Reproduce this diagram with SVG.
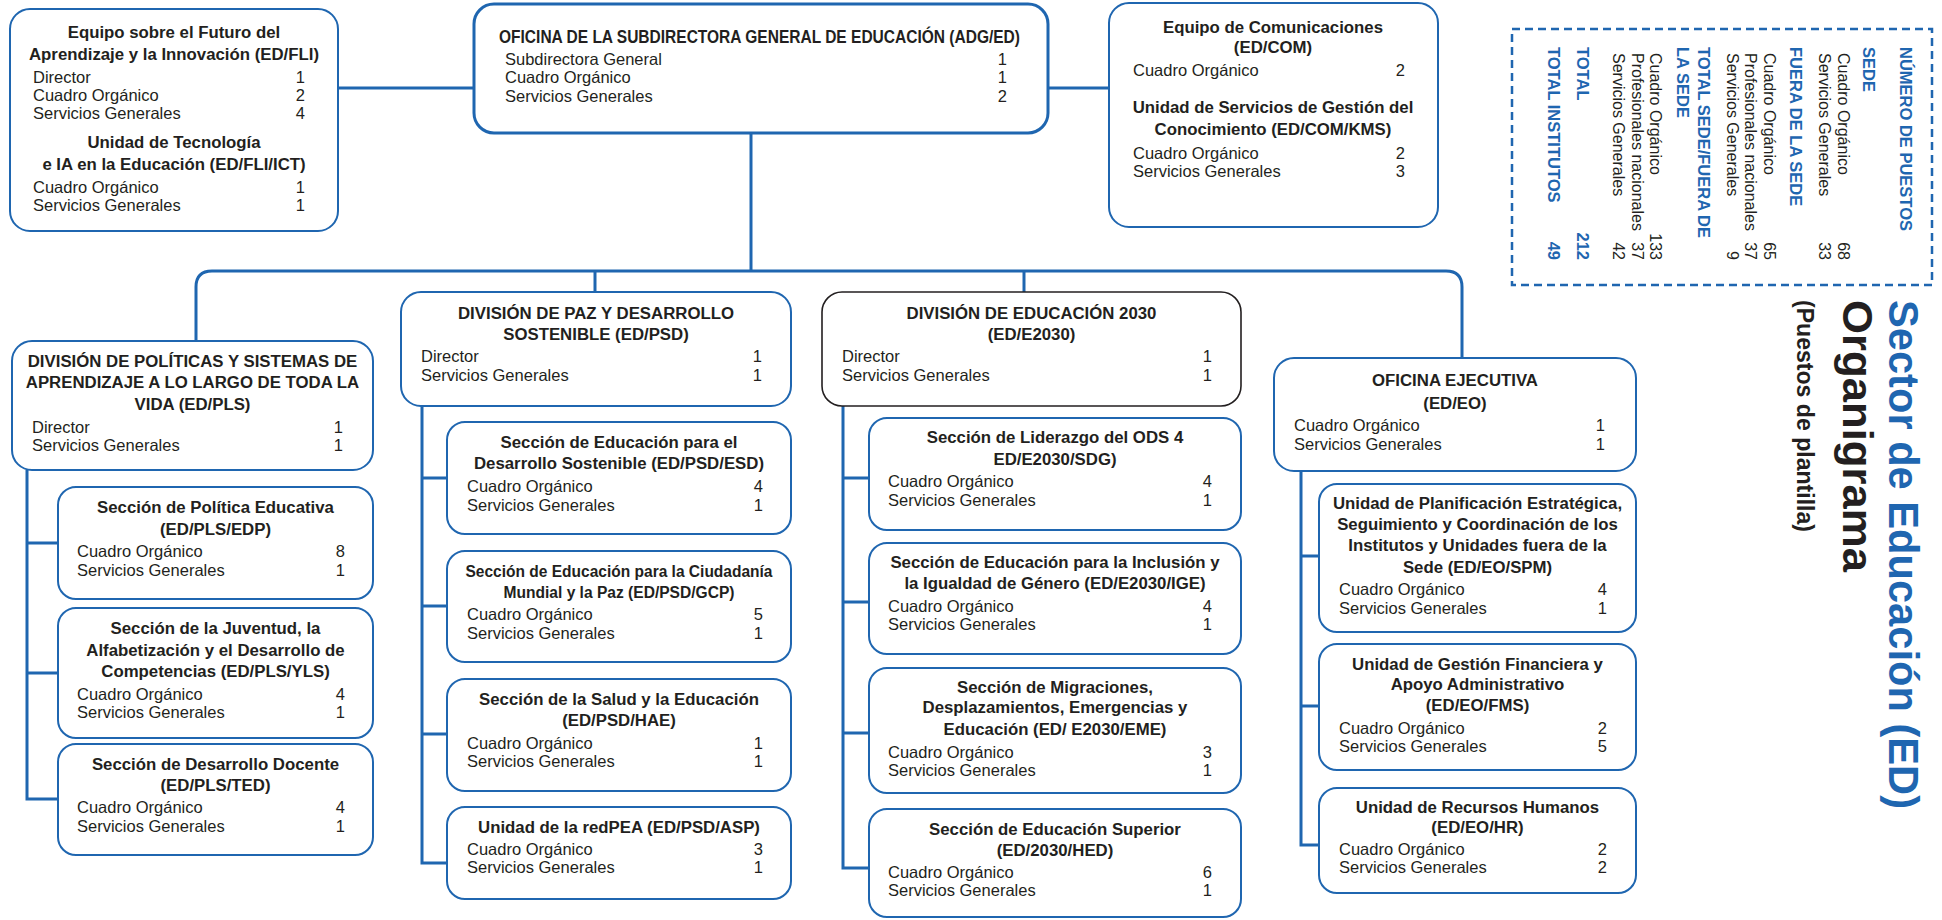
<svg xmlns="http://www.w3.org/2000/svg" width="1942" height="920" viewBox="0 0 1942 920">
  <style>
    .box { fill: #ffffff; stroke: #1f66b0; stroke-width: 2; }
    .box-main { fill: #ffffff; stroke: #1f66b0; stroke-width: 3; }
    .box-dark { fill: #ffffff; stroke: #231f20; stroke-width: 1.6; }
    .link { fill: none; stroke: #1f66b0; stroke-width: 3; }
    text { font-family: "Liberation Sans", Arial, sans-serif; fill: #231f20; }
    .t { font-size: 16.8px; font-weight: bold; text-anchor: middle; }
    .r { font-size: 16.5px; }
    .n { font-size: 16.5px; text-anchor: end; }
    .lg { font-size: 16.5px; font-weight: bold; fill: #1f66b0; }
    .lr { font-size: 16px; }
    .ln { font-size: 16px; text-anchor: end; }
    .lnb { font-size: 16.5px; font-weight: bold; fill: #1f66b0; text-anchor: end; }
  </style>

  <!-- connectors -->
  <g id="connectors">
    <path class="link" d="M338,88 H474"/>
    <path class="link" d="M1048,88 H1109"/>
    <path class="link" d="M751,133 V271"/>
    <path class="link" d="M196,341 V287 Q196,271 212,271 H1446 Q1462,271 1462,287 V358"/>
    <path class="link" d="M595,271 V292"/>
    <path class="link" d="M1024,271 V292"/>
    <!-- PLS sections -->
    <path class="link" d="M27,470 V799 H58 M27,543 H58 M27,673 H58"/>
    <!-- PSD sections -->
    <path class="link" d="M422,406 V863 H447 M422,478 H447 M422,606 H447 M422,734 H447"/>
    <!-- E2030 sections -->
    <path class="link" d="M843,406 V868 H869 M843,478 H869 M843,602 H869 M843,733 H869"/>
    <!-- EO units -->
    <path class="link" d="M1301,471 V845 H1319 M1301,556 H1319 M1301,706 H1319"/>
  </g>

  <!-- Equipo sobre el Futuro del Aprendizaje -->
  <g id="ed-fli">
    <rect class="box" x="10" y="9" width="328" height="222" rx="20"/>
    <text class="t" x="174" y="38">Equipo sobre el Futuro del</text>
    <text class="t" x="174" y="60">Aprendizaje y la Innovación (ED/FLI)</text>
    <text class="r" x="33" y="83">Director</text><text class="n" x="305" y="83">1</text>
    <text class="r" x="33" y="101">Cuadro Orgánico</text><text class="n" x="305" y="101">2</text>
    <text class="r" x="33" y="119">Servicios Generales</text><text class="n" x="305" y="119">4</text>
    <text class="t" x="174" y="148">Unidad de Tecnología</text>
    <text class="t" x="174" y="170">e IA en la Educación (ED/FLI/ICT)</text>
    <text class="r" x="33" y="193">Cuadro Orgánico</text><text class="n" x="305" y="193">1</text>
    <text class="r" x="33" y="211">Servicios Generales</text><text class="n" x="305" y="211">1</text>
  </g>

  <!-- Oficina de la Subdirectora General -->
  <g id="adg-ed">
    <rect class="box-main" x="474" y="4" width="574" height="129" rx="20"/>
    <text class="t" x="759.5" y="43" style="font-size:18px" textLength="521" lengthAdjust="spacingAndGlyphs">OFICINA DE LA SUBDIRECTORA GENERAL DE EDUCACIÓN (ADG/ED)</text>
    <text class="r" x="505" y="65">Subdirectora General</text><text class="n" x="1007" y="65">1</text>
    <text class="r" x="505" y="83">Cuadro Orgánico</text><text class="n" x="1007" y="83">1</text>
    <text class="r" x="505" y="101.5">Servicios Generales</text><text class="n" x="1007" y="101.5">2</text>
  </g>

  <!-- Equipo de Comunicaciones -->
  <g id="ed-com">
    <rect class="box" x="1109" y="3" width="329" height="224" rx="20"/>
    <text class="t" x="1273" y="33">Equipo de Comunicaciones</text>
    <text class="t" x="1273" y="53">(ED/COM)</text>
    <text class="r" x="1133" y="76">Cuadro Orgánico</text><text class="n" x="1405" y="76">2</text>
    <text class="t" x="1273" y="113">Unidad de Servicios de Gestión del</text>
    <text class="t" x="1273" y="135">Conocimiento (ED/COM/KMS)</text>
    <text class="r" x="1133" y="159">Cuadro Orgánico</text><text class="n" x="1405" y="159">2</text>
    <text class="r" x="1133" y="177">Servicios Generales</text><text class="n" x="1405" y="177">3</text>
  </g>

  <!-- Legend: number of posts -->
  <g id="legend">
    <rect x="1512" y="29" width="420" height="256" fill="none" stroke="#1f66b0" stroke-width="2.5" stroke-dasharray="8 5"/>
    <text class="lg" transform="translate(1900,47) rotate(90)">NÚMERO DE PUESTOS</text>
    <text class="lg" transform="translate(1863,47) rotate(90)">SEDE</text>
    <text class="lr" transform="translate(1838,53) rotate(90)">Cuadro Orgánico</text>
    <text class="ln" transform="translate(1838,260) rotate(90)">68</text>
    <text class="lr" transform="translate(1819,53) rotate(90)">Servicios Generales</text>
    <text class="ln" transform="translate(1819,260) rotate(90)">33</text>
    <text class="lg" transform="translate(1790,47) rotate(90)">FUERA DE LA SEDE</text>
    <text class="lr" transform="translate(1764,53) rotate(90)">Cuadro Orgánico</text>
    <text class="ln" transform="translate(1764,260) rotate(90)">65</text>
    <text class="lr" transform="translate(1745,53) rotate(90)">Profesionales nacionales</text>
    <text class="ln" transform="translate(1745,260) rotate(90)">37</text>
    <text class="lr" transform="translate(1727,53) rotate(90)">Servicios Generales</text>
    <text class="ln" transform="translate(1727,260) rotate(90)">9</text>
    <text class="lg" transform="translate(1698,47) rotate(90)">TOTAL SEDE/FUERA DE</text>
    <text class="lg" transform="translate(1677,47) rotate(90)">LA SEDE</text>
    <text class="lr" transform="translate(1650,53) rotate(90)">Cuadro Orgánico</text>
    <text class="ln" transform="translate(1650,260) rotate(90)">133</text>
    <text class="lr" transform="translate(1632,53) rotate(90)">Profesionales nacionales</text>
    <text class="ln" transform="translate(1632,260) rotate(90)">37</text>
    <text class="lr" transform="translate(1613,53) rotate(90)">Servicios Generales</text>
    <text class="ln" transform="translate(1613,260) rotate(90)">42</text>
    <text class="lg" transform="translate(1577,47) rotate(90)">TOTAL</text>
    <text class="lnb" transform="translate(1577,260) rotate(90)">212</text>
    <text class="lg" transform="translate(1548,47) rotate(90)">TOTAL INSTITUTOS</text>
    <text class="lnb" transform="translate(1548,260) rotate(90)">49</text>
  </g>

  <!-- Chart title -->
  <g id="title">
    <text transform="translate(1889,300) rotate(90)" style="font-size:42px;font-weight:bold;fill:#1f66b0" textLength="509" lengthAdjust="spacingAndGlyphs">Sector de Educación (ED)</text>
    <text transform="translate(1843,300) rotate(90)" style="font-size:42px;font-weight:bold" textLength="272" lengthAdjust="spacingAndGlyphs">Organigrama</text>
    <text transform="translate(1797,300) rotate(90)" style="font-size:24px;font-weight:bold" textLength="232" lengthAdjust="spacingAndGlyphs">(Puestos de plantilla)</text>
  </g>

  <!-- División de Políticas y Sistemas de Aprendizaje -->
  <g id="ed-pls">
    <rect class="box" x="12" y="341" width="361" height="129" rx="20"/>
    <text class="t" x="192.5" y="367">DIVISIÓN DE POLÍTICAS Y SISTEMAS DE</text>
    <text class="t" x="192.5" y="388">APRENDIZAJE A LO LARGO DE TODA LA</text>
    <text class="t" x="192.5" y="410">VIDA (ED/PLS)</text>
    <text class="r" x="32" y="433">Director</text><text class="n" x="343" y="433">1</text>
    <text class="r" x="32" y="451">Servicios Generales</text><text class="n" x="343" y="451">1</text>
  </g>
  <g id="ed-pls-edp">
    <rect class="box" x="58" y="487" width="315" height="112" rx="18"/>
    <text class="t" x="215.5" y="513">Sección de Política Educativa</text>
    <text class="t" x="215.5" y="535">(ED/PLS/EDP)</text>
    <text class="r" x="77" y="557">Cuadro Orgánico</text><text class="n" x="345" y="557">8</text>
    <text class="r" x="77" y="576">Servicios Generales</text><text class="n" x="345" y="576">1</text>
  </g>
  <g id="ed-pls-yls">
    <rect class="box" x="58" y="608" width="315" height="130" rx="18"/>
    <text class="t" x="215.5" y="634">Sección de la Juventud, la</text>
    <text class="t" x="215.5" y="656">Alfabetización y el Desarrollo de</text>
    <text class="t" x="215.5" y="677">Competencias (ED/PLS/YLS)</text>
    <text class="r" x="77" y="700">Cuadro Orgánico</text><text class="n" x="345" y="700">4</text>
    <text class="r" x="77" y="718">Servicios Generales</text><text class="n" x="345" y="718">1</text>
  </g>
  <g id="ed-pls-ted">
    <rect class="box" x="58" y="744" width="315" height="111" rx="18"/>
    <text class="t" x="215.5" y="770">Sección de Desarrollo Docente</text>
    <text class="t" x="215.5" y="791">(ED/PLS/TED)</text>
    <text class="r" x="77" y="813">Cuadro Orgánico</text><text class="n" x="345" y="813">4</text>
    <text class="r" x="77" y="832">Servicios Generales</text><text class="n" x="345" y="832">1</text>
  </g>

  <!-- División de Paz y Desarrollo Sostenible -->
  <g id="ed-psd">
    <rect class="box" x="401" y="292" width="390" height="114" rx="20"/>
    <text class="t" x="596" y="319">DIVISIÓN DE PAZ Y DESARROLLO</text>
    <text class="t" x="596" y="340">SOSTENIBLE (ED/PSD)</text>
    <text class="r" x="421" y="362">Director</text><text class="n" x="762" y="362">1</text>
    <text class="r" x="421" y="381">Servicios Generales</text><text class="n" x="762" y="381">1</text>
  </g>
  <g id="ed-psd-esd">
    <rect class="box" x="447" y="422" width="344" height="112" rx="18"/>
    <text class="t" x="619" y="448">Sección de Educación para el</text>
    <text class="t" x="619" y="469">Desarrollo Sostenible (ED/PSD/ESD)</text>
    <text class="r" x="467" y="492">Cuadro Orgánico</text><text class="n" x="763" y="492">4</text>
    <text class="r" x="467" y="511">Servicios Generales</text><text class="n" x="763" y="511">1</text>
  </g>
  <g id="ed-psd-gcp">
    <rect class="box" x="447" y="551" width="344" height="111" rx="18"/>
    <text class="t" x="619" y="577" textLength="307" lengthAdjust="spacingAndGlyphs">Sección de Educación para la Ciudadanía</text>
    <text class="t" x="619" y="598" textLength="231" lengthAdjust="spacingAndGlyphs">Mundial y la Paz (ED/PSD/GCP)</text>
    <text class="r" x="467" y="620">Cuadro Orgánico</text><text class="n" x="763" y="620">5</text>
    <text class="r" x="467" y="639">Servicios Generales</text><text class="n" x="763" y="639">1</text>
  </g>
  <g id="ed-psd-hae">
    <rect class="box" x="447" y="679" width="344" height="112" rx="18"/>
    <text class="t" x="619" y="705">Sección de la Salud y la Educación</text>
    <text class="t" x="619" y="726">(ED/PSD/HAE)</text>
    <text class="r" x="467" y="749">Cuadro Orgánico</text><text class="n" x="763" y="749">1</text>
    <text class="r" x="467" y="767">Servicios Generales</text><text class="n" x="763" y="767">1</text>
  </g>
  <g id="ed-psd-asp">
    <rect class="box" x="447" y="807" width="344" height="92" rx="18"/>
    <text class="t" x="619" y="833">Unidad de la redPEA (ED/PSD/ASP)</text>
    <text class="r" x="467" y="855">Cuadro Orgánico</text><text class="n" x="763" y="855">3</text>
    <text class="r" x="467" y="873">Servicios Generales</text><text class="n" x="763" y="873">1</text>
  </g>

  <!-- División de Educación 2030 -->
  <g id="ed-e2030">
    <rect class="box-dark" x="822" y="292" width="419" height="114" rx="20"/>
    <text class="t" x="1031.5" y="319">DIVISIÓN DE EDUCACIÓN 2030</text>
    <text class="t" x="1031.5" y="340">(ED/E2030)</text>
    <text class="r" x="842" y="362">Director</text><text class="n" x="1212" y="362">1</text>
    <text class="r" x="842" y="381">Servicios Generales</text><text class="n" x="1212" y="381">1</text>
  </g>
  <g id="ed-e2030-sdg">
    <rect class="box" x="869" y="418" width="372" height="112" rx="18"/>
    <text class="t" x="1055" y="443">Sección de Liderazgo del ODS 4</text>
    <text class="t" x="1055" y="465">ED/E2030/SDG)</text>
    <text class="r" x="888" y="487">Cuadro Orgánico</text><text class="n" x="1212" y="487">4</text>
    <text class="r" x="888" y="506">Servicios Generales</text><text class="n" x="1212" y="506">1</text>
  </g>
  <g id="ed-e2030-ige">
    <rect class="box" x="869" y="543" width="372" height="111" rx="18"/>
    <text class="t" x="1055" y="568">Sección de Educación para la Inclusión y</text>
    <text class="t" x="1055" y="589">la Igualdad de Género (ED/E2030/IGE)</text>
    <text class="r" x="888" y="612">Cuadro Orgánico</text><text class="n" x="1212" y="612">4</text>
    <text class="r" x="888" y="630">Servicios Generales</text><text class="n" x="1212" y="630">1</text>
  </g>
  <g id="ed-e2030-eme">
    <rect class="box" x="869" y="668" width="372" height="125" rx="18"/>
    <text class="t" x="1055" y="693">Sección de Migraciones,</text>
    <text class="t" x="1055" y="713">Desplazamientos, Emergencias y</text>
    <text class="t" x="1055" y="735">Educación (ED/ E2030/EME)</text>
    <text class="r" x="888" y="758">Cuadro Orgánico</text><text class="n" x="1212" y="758">3</text>
    <text class="r" x="888" y="776">Servicios Generales</text><text class="n" x="1212" y="776">1</text>
  </g>
  <g id="ed-e2030-hed">
    <rect class="box" x="869" y="809" width="372" height="108" rx="18"/>
    <text class="t" x="1055" y="835">Sección de Educación Superior</text>
    <text class="t" x="1055" y="856">(ED/2030/HED)</text>
    <text class="r" x="888" y="878">Cuadro Orgánico</text><text class="n" x="1212" y="878">6</text>
    <text class="r" x="888" y="896">Servicios Generales</text><text class="n" x="1212" y="896">1</text>
  </g>

  <!-- Oficina Ejecutiva -->
  <g id="ed-eo">
    <rect class="box" x="1274" y="358" width="362" height="113" rx="20"/>
    <text class="t" x="1455" y="386">OFICINA EJECUTIVA</text>
    <text class="t" x="1455" y="409">(ED/EO)</text>
    <text class="r" x="1294" y="431">Cuadro Orgánico</text><text class="n" x="1605" y="431">1</text>
    <text class="r" x="1294" y="450">Servicios Generales</text><text class="n" x="1605" y="450">1</text>
  </g>
  <g id="ed-eo-spm">
    <rect class="box" x="1319" y="484" width="317" height="148" rx="18"/>
    <text class="t" x="1477.5" y="509">Unidad de Planificación Estratégica,</text>
    <text class="t" x="1477.5" y="530">Seguimiento y Coordinación de los</text>
    <text class="t" x="1477.5" y="551">Institutos y Unidades fuera de la</text>
    <text class="t" x="1477.5" y="573">Sede (ED/EO/SPM)</text>
    <text class="r" x="1339" y="595">Cuadro Orgánico</text><text class="n" x="1607" y="595">4</text>
    <text class="r" x="1339" y="614">Servicios Generales</text><text class="n" x="1607" y="614">1</text>
  </g>
  <g id="ed-eo-fms">
    <rect class="box" x="1319" y="644" width="317" height="126" rx="18"/>
    <text class="t" x="1477.5" y="670">Unidad de Gestión Financiera y</text>
    <text class="t" x="1477.5" y="690">Apoyo Administrativo</text>
    <text class="t" x="1477.5" y="711">(ED/EO/FMS)</text>
    <text class="r" x="1339" y="734">Cuadro Orgánico</text><text class="n" x="1607" y="734">2</text>
    <text class="r" x="1339" y="752">Servicios Generales</text><text class="n" x="1607" y="752">5</text>
  </g>
  <g id="ed-eo-hr">
    <rect class="box" x="1319" y="788" width="317" height="105" rx="18"/>
    <text class="t" x="1477.5" y="813">Unidad de Recursos Humanos</text>
    <text class="t" x="1477.5" y="833">(ED/EO/HR)</text>
    <text class="r" x="1339" y="855">Cuadro Orgánico</text><text class="n" x="1607" y="855">2</text>
    <text class="r" x="1339" y="873">Servicios Generales</text><text class="n" x="1607" y="873">2</text>
  </g>
</svg>
